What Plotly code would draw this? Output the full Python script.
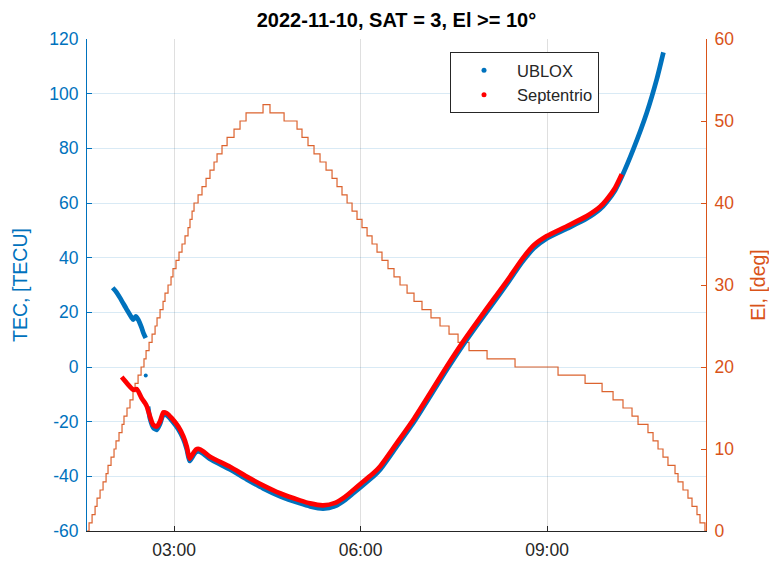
import plotly.graph_objects as go
from datetime import datetime, timedelta

# ---- data (times in minutes after midnight, 2022-11-10) ----
ublox1_min = [120.8, 124.0, 127.9, 134.4, 139.2, 140.7, 143.0, 145.5, 148.8, 150.4, 152.7]
ublox1_tec = [29.0, 27.6, 25.3, 21.0, 18.0, 17.3, 18.5, 17.3, 14.3, 12.5, 10.6]

ublox_dot_min = [152.7]
ublox_dot_tec = [-3.1]

ublox2_min = [154.9, 156.8, 160.0, 163.3, 166.5, 169.7, 173.0, 177.8, 184.1, 189.0, 192.3, 195.0,
              198.6, 201.2, 204.1, 208.3, 214.7, 234.0, 250.2, 265.9, 282.3, 301.6, 311.3, 323.8,
              335.4, 345.0, 353.0, 362.4, 372.3, 378.8, 394.3, 410.9, 427.1, 443.2, 459.2, 475.3,
              488.2, 501.4, 515.6, 527.4, 539.7, 559.0, 578.3, 591.1, 597.6, 605.6, 612.1, 623.3,
              636.3, 645.9, 652.3]
ublox2_tec = [-14.5, -18.9, -22.2, -23.0, -20.8, -17.4, -17.6, -19.6, -22.8, -26.4, -30.1, -34.4,
              -32.4, -31.1, -30.9, -31.8, -33.7, -37.5, -41.1, -44.4, -47.3, -49.9, -51.0, -51.8,
              -50.9, -48.7, -46.2, -43.2, -40.1, -37.6, -29.4, -20.5, -10.8, -1.0, 8.2, 16.8,
              23.5, 30.4, 38.2, 43.5, 47.0, 50.6, 54.3, 57.7, 60.4, 64.6, 69.6, 79.7,
              93.1, 105.3, 115.1]

sept_min = [129.5, 134.4, 140.7, 144.0, 148.8, 152.0, 153.7, 156.8, 160.0, 163.3, 166.5, 169.7,
            173.0, 177.8, 184.1, 189.0, 192.3, 195.0, 198.6, 201.2, 204.1, 208.3, 214.7, 234.0,
            250.2, 265.9, 282.3, 301.6, 311.3, 323.8, 335.4, 345.0, 353.0, 362.4, 372.3, 378.8,
            394.3, 410.9, 427.1, 443.2, 459.2, 475.3, 488.2, 501.4, 515.6, 527.4, 539.7, 559.0,
            578.3, 591.1, 597.6, 605.6, 612.1]
sept_tec = [-3.7, -5.9, -8.3, -8.1, -11.4, -13.2, -14.4, -18.1, -21.2, -21.8, -19.9, -16.6,
            -16.9, -18.7, -21.8, -25.4, -29.1, -33.5, -31.5, -30.2, -30.0, -30.9, -32.8, -36.5,
            -40.1, -43.3, -46.2, -48.8, -49.9, -50.6, -49.7, -47.5, -45.0, -42.0, -38.9, -36.4,
            -28.2, -19.3, -9.6, 0.2, 9.4, 18.0, 24.7, 31.5, 39.3, 44.6, 47.9, 51.5,
            55.2, 58.6, 61.3, 65.5, 70.5]

# elevation staircase: minute at which each level starts, and the level (deg)
el_min = [96.0, 98.0, 100.9, 103.8, 105.7, 108.6, 111.5, 114.4, 116.3, 119.2, 122.1, 124.0,
          126.9, 129.8, 131.7, 134.6, 137.5, 140.4, 142.4, 145.3, 148.2, 151.0, 153.0, 155.9,
          158.8, 161.7, 163.6, 166.5, 169.4, 171.3, 174.2, 177.1, 179.0, 181.9, 184.8, 187.7,
          190.6, 193.5, 195.4, 197.4, 199.3, 203.2, 207.0, 210.9, 214.7, 218.6, 221.5, 226.3,
          231.2, 237.9, 243.7, 249.5, 265.9, 272.6, 286.2, 298.7, 303.5, 309.3, 315.1, 320.9,
          326.7, 332.5, 337.3, 342.1, 347.0, 351.8, 356.6, 361.4, 366.3, 371.1, 375.9, 380.7,
          386.5, 392.3, 398.1, 404.9, 411.6, 419.3, 428.0, 436.7, 445.4, 454.1, 464.7, 482.1,
          509.1, 550.6, 576.7, 593.1, 603.7, 613.3, 622.0, 627.8, 637.4, 642.3, 647.1, 651.9,
          656.7, 663.5, 666.4, 671.2, 676.0, 679.9, 684.7, 687.6, 692.4, 693.4]
el_deg = [0, 1, 2, 3, 4, 5, 6, 7, 8, 9, 10, 11,
          12, 13, 14, 15, 16, 17, 18, 19, 20, 21, 22, 23,
          24, 25, 26, 27, 28, 29, 30, 31, 32, 33, 34, 35,
          36, 37, 38, 39, 40, 41, 42, 43, 44, 45, 46, 47,
          48, 49, 50, 51, 52, 51, 50, 49, 48, 47, 46, 45,
          44, 43, 42, 41, 40, 39, 38, 37, 36, 35, 34, 33,
          32, 31, 30, 29, 28, 27, 26, 25, 24, 23, 22, 21,
          20, 19, 18, 17, 16, 15, 14, 13, 12, 11, 10, 9,
          8, 7, 6, 5, 4, 3, 2, 1, 0, 0]

tec_ticks = [-60, -40, -20, 0, 20, 40, 60, 80, 100, 120]
el_ticks = [0, 10, 20, 30, 40, 50, 60]
x_tick_min = [180, 360, 540]
x_range_min = [96.0, 693.4]

BLUE = "#0072BD"
ORANGE = "#D95319"
RED = "#FF0000"
DARK = "#262626"
FONT = "Liberation Sans, Arial, Helvetica, sans-serif"

base = datetime(2022, 11, 10)


def tm(ms):
    return [base + timedelta(minutes=m) if m is not None else None for m in ms]


fig = go.Figure()

# elevation (primary y, drawn below)
fig.add_trace(go.Scatter(x=tm(el_min), y=el_deg, mode="lines", line=dict(color=ORANGE, width=1.2, shape="hv"),
                         yaxis="y", showlegend=False, hoverinfo="skip", opacity=0.9))

# UBLOX
u_x = ublox1_min + [None] + ublox2_min
u_y = ublox1_tec + [None] + ublox2_tec
fig.add_trace(go.Scatter(x=tm(u_x), y=u_y, mode="lines", connectgaps=False,
                         line=dict(color=BLUE, width=4.7, shape="spline", smoothing=0.6),
                         yaxis="y2", showlegend=False))
fig.add_trace(go.Scatter(x=tm(ublox_dot_min), y=ublox_dot_tec, mode="markers",
                         marker=dict(color=BLUE, size=4), yaxis="y2", showlegend=False))
# Septentrio
fig.add_trace(go.Scatter(x=tm(sept_min), y=sept_tec, mode="lines",
                         line=dict(color=RED, width=4.7, shape="spline", smoothing=0.6),
                         yaxis="y2", showlegend=False))

# legend entries
fig.add_trace(go.Scatter(x=[None], y=[None], mode="markers", marker=dict(color=BLUE, size=5),
                         name="UBLOX", yaxis="y2"))
fig.add_trace(go.Scatter(x=[None], y=[None], mode="markers", marker=dict(color=RED, size=5),
                         name="Septentrio", yaxis="y2"))

fig.update_layout(
    width=769, height=563,
    margin=dict(l=87, r=63, t=39, b=32, autoexpand=False),
    paper_bgcolor="white", plot_bgcolor="white",
    font=dict(family=FONT, color=DARK, size=17),
    title=dict(text="<b>2022-11-10, SAT = 3, El >= 10°</b>", x=0.5, xref="paper", xanchor="center",
               y=1 - 20 / 563, yref="container", yanchor="middle",
               font=dict(family=FONT, size=20, color="#000000")),
    xaxis=dict(type="date", range=tm(x_range_min), tickvals=tm(x_tick_min), tickformat="%H:%M",
               ticks="inside", ticklen=5, tickcolor=DARK, showline=True, linecolor=DARK, linewidth=1,
               showgrid=True, gridcolor="#DFDFDF", gridwidth=1, zeroline=False, automargin=False,
               ticklabelstandoff=3,
               tickfont=dict(size=17.5, color=DARK, family=FONT)),
    yaxis=dict(side="right", range=[0, 60], tickvals=el_ticks, ticktext=[str(v) for v in el_ticks],
               ticks="inside", ticklen=5, tickcolor=ORANGE, showline=True, linecolor=ORANGE, linewidth=1,
               showgrid=False, zeroline=False, tickfont=dict(size=17.5, color=ORANGE, family=FONT),
               ticklabelstandoff=4, automargin=False,
               title=dict(text="El, [deg]", font=dict(size=19.5, color=ORANGE, family=FONT), standoff=18)),
    yaxis2=dict(side="left", overlaying="y", range=[-60, 120], tickvals=tec_ticks,
                ticktext=[str(v) for v in tec_ticks],
                ticks="inside", ticklen=5, tickcolor=BLUE, showline=True, linecolor=BLUE, linewidth=1,
                showgrid=True, gridcolor="rgba(0,114,189,0.15)", gridwidth=1, zeroline=False,
                tickfont=dict(size=17.5, color=BLUE, family=FONT),
                ticklabelstandoff=4, automargin=False,
                title=dict(text="TEC, [TECU]", font=dict(size=19.5, color=BLUE, family=FONT), standoff=16)),
    legend=dict(x=(450 - 87) / 619, y=(531 - 52) / 492, xanchor="left", yanchor="top",
                bgcolor="white", bordercolor=DARK, borderwidth=1,
                font=dict(size=16.5, color=DARK, family=FONT), itemwidth=56, tracegroupgap=0),
    showlegend=True,
)

fig.write_html("out.html")
